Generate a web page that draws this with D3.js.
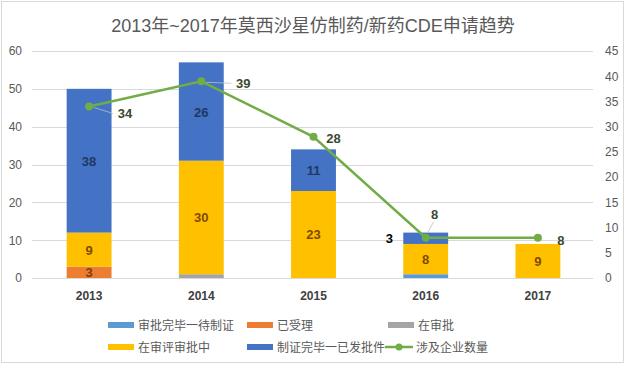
<!DOCTYPE html>
<html>
<head>
<meta charset="utf-8">
<script src="https://cdn.jsdelivr.net/npm/d3@7"></script>
<style>
  body { margin: 0; background: #fff; }
  svg { display: block; font-family: 'Liberation Sans', 'Noto Sans CJK SC', sans-serif; }
</style>
</head>
<body>
<div id="chart"></div>
<script>
// categories and series
const years = ['2013', '2014', '2015', '2016', '2017'];
const waitingCert = [0, 0, 0, 1, 0];      // 审批完毕一待制证
const accepted = [3, 0, 0, 0, 0];         // 已受理
const approving = [0, 1, 0, 0, 0];        // 在审批
const underReview = [9, 30, 23, 8, 9];    // 在审评审批中
const issued = [38, 26, 11, 3, 0];        // 制证完毕一已发批件
const companies = [34, 39, 28, 8, 8];     // 涉及企业数量

const leftTicks = [0, 10, 20, 30, 40, 50, 60];
const rightTicks = [0, 5, 10, 15, 20, 25, 30, 35, 40, 45];

const seriesNames = ['审批完毕一待制证', '已受理', '在审批', '在审评审批中', '制证完毕一已发批件'];
const lineName = '涉及企业数量';
const title = '2013年~2017年莫西沙星仿制药/新药CDE申请趋势';

const colors = ['#5b9bd5', '#ed7d31', '#a5a5a5', '#ffc000', '#4472c4'];
const labelColors = ['#1f3864', '#843c0c', '#404040', '#7f4a00', '#1f3864'];
const lineColor = '#70ad47';

const width = 627, height = 365;
const svg = d3.select('#chart').append('svg')
    .attr('width', width)
    .attr('height', height);

// outer border
svg.append('rect')
    .attr('x', 1.5).attr('y', 1.5)
    .attr('width', 622).attr('height', 361)
    .attr('fill', '#fff')
    .attr('stroke', '#d9d9d9');

svg.append('text')
    .attr('x', 313).attr('y', 32)
    .attr('text-anchor', 'middle')
    .style('font-size', '18px')
    .attr('fill', '#595959')
    .text(title);

const x = d3.scaleBand()
    .domain(years)
    .range([33, 594])
    .paddingInner(0.6)
    .paddingOuter(0.3);

const y = d3.scaleLinear().domain([0, 60]).range([278, 51]);
const y2 = d3.scaleLinear().domain([0, 45]).range([278, 51]);

// gridlines
svg.append('g').selectAll('line')
    .data(leftTicks)
    .enter().append('line')
    .attr('x1', 32).attr('x2', 593)
    .attr('y1', d => Math.round(y(d)) + 0.5)
    .attr('y2', d => Math.round(y(d)) + 0.5)
    .attr('stroke', '#d9d9d9');

// left axis
const leftAxis = svg.append('g')
    .attr('transform', 'translate(28,0)')
    .call(d3.axisLeft(y).tickValues(leftTicks).tickSize(0).tickPadding(6));
leftAxis.select('.domain').remove();
leftAxis.selectAll('text').style('font-size', '12px').attr('fill', '#595959')
    .style('font-family', 'inherit');

// right axis
const rightAxis = svg.append('g')
    .attr('transform', 'translate(599,0)')
    .call(d3.axisRight(y2).tickValues(rightTicks).tickSize(0).tickPadding(6));
rightAxis.select('.domain').remove();
rightAxis.selectAll('text').style('font-size', '12px').attr('fill', '#595959')
    .style('font-family', 'inherit');

// bottom axis labels
const bottomAxis = svg.append('g')
    .attr('transform', 'translate(0,278)')
    .call(d3.axisBottom(x).tickSize(0).tickPadding(13));
bottomAxis.select('.domain').remove();
bottomAxis.selectAll('text').style('font-size', '12px').style('font-weight', 'bold')
    .attr('fill', '#404040').style('font-family', 'inherit');

// stacked bars
const table = years.map((yr, i) => ({
    year: yr,
    s0: waitingCert[i], s1: accepted[i], s2: approving[i], s3: underReview[i], s4: issued[i]
}));
const keys = ['s0', 's1', 's2', 's3', 's4'];
const stacked = d3.stack().keys(keys)(table);

const layers = svg.append('g').selectAll('g')
    .data(stacked)
    .enter().append('g')
    .attr('fill', (d, i) => colors[i]);

layers.selectAll('rect')
    .data(d => d)
    .enter().append('rect')
    .attr('x', d => x(d.data.year))
    .attr('width', x.bandwidth())
    .attr('y', d => y(d[1]))
    .attr('height', d => y(d[0]) - y(d[1]));

// bar labels; small segment labels that sit beside the bar
const outsideLeft = { '2016-s4': true };
stacked.forEach((layer, li) => {
    layer.forEach(d => {
        const v = d[1] - d[0];
        if (v < 2) return;
        const id = d.data.year + '-' + layer.key;
        const outside = outsideLeft[id];
        svg.append('text')
            .attr('x', outside ? x(d.data.year) - 14 : x(d.data.year) + x.bandwidth() / 2)
            .attr('y', (y(d[0]) + y(d[1])) / 2 + 5)
            .attr('text-anchor', 'middle')
            .style('font-size', '13px')
            .style('font-weight', 'bold')
            .attr('fill', outside ? '#000' : labelColors[li])
            .text(v);
    });
});

// line series
const cx = d => x(d) + x.bandwidth() / 2;
const line = d3.line()
    .x((d, i) => cx(years[i]))
    .y(d => y2(d));

svg.append('path')
    .datum(companies)
    .attr('fill', 'none')
    .attr('stroke', lineColor)
    .attr('stroke-width', 2.5)
    .attr('d', line);

svg.append('g').selectAll('circle')
    .data(companies)
    .enter().append('circle')
    .attr('cx', (d, i) => cx(years[i]))
    .attr('cy', d => y2(d))
    .attr('r', 4)
    .attr('fill', lineColor);

// line labels: offset from the point [dx, dy, leader]
const lineLabelOffsets = [[36, 7, true], [42, 2, true], [20, 1, false], [9, -24, true], [23, 2, false]];
companies.forEach((v, i) => {
    const px = cx(years[i]), py = y2(v);
    const [dx, dy, leader] = lineLabelOffsets[i];
    if (leader) {
        svg.append('line')
            .attr('x1', px + (dx > 15 ? 5 : 2)).attr('y1', py + (dy < -10 ? -5 : 1))
            .attr('x2', px + dx - (dx > 15 ? 12 : 1)).attr('y2', py + dy + (dy < -10 ? 8 : 0))
            .attr('stroke', '#bfbfbf').attr('stroke-width', 0.8);
    }
    svg.append('text')
        .attr('x', px + dx).attr('y', py + dy + 5)
        .attr('text-anchor', 'middle')
        .style('font-size', '13px')
        .style('font-weight', 'bold')
        .attr('fill', '#3b4a2e')
        .text(v);
});

// legend
const legendItems = [
    { name: seriesNames[0], color: colors[0], x: 108, y: 325 },
    { name: seriesNames[1], color: colors[1], x: 247, y: 325 },
    { name: seriesNames[2], color: colors[2], x: 388, y: 325 },
    { name: seriesNames[3], color: colors[3], x: 108, y: 347 },
    { name: seriesNames[4], color: colors[4], x: 247, y: 347 },
    { name: lineName, color: lineColor, x: 385, y: 347, line: true }
];
const legend = svg.append('g').selectAll('g')
    .data(legendItems)
    .enter().append('g')
    .attr('transform', d => `translate(${d.x},${d.y})`);

legend.filter(d => !d.line).append('rect')
    .attr('x', 0).attr('y', -3)
    .attr('width', 26).attr('height', 6)
    .attr('fill', d => d.color);

const ll = legend.filter(d => d.line);
ll.append('line')
    .attr('x1', 0).attr('x2', 28)
    .attr('stroke', lineColor).attr('stroke-width', 2.5);
ll.append('circle')
    .attr('cx', 14).attr('r', 3.5).attr('fill', lineColor);

legend.append('text')
    .attr('x', d => d.line ? 31 : 30)
    .attr('y', 4.5)
    .style('font-size', '12px')
    .attr('fill', '#595959')
    .text(d => d.name);
</script>
</body>
</html>
